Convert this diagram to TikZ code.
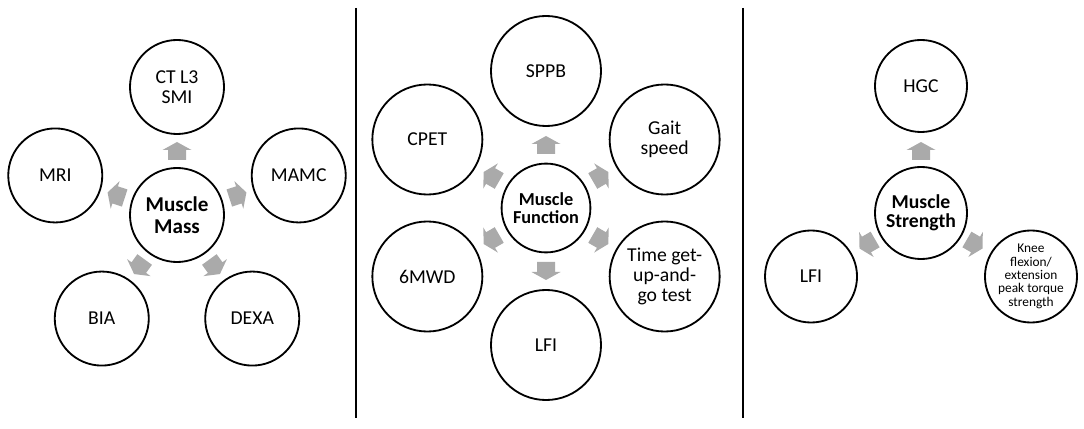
\documentclass[tikz,border=0pt]{standalone}
\usepackage{fontspec}
\setmainfont{Carlito}
\usetikzlibrary{calc}

\definecolor{arrowgray}{RGB}{170,170,170}
\tikzset{
	item/.style={circle, draw, line width=1.3pt, minimum size=2.35cm, inner sep=0pt,
		align=center, font=\fontsize{14}{14.2}\selectfont},
	hub/.style={item, font=\fontsize{15}{15.4}\selectfont\bfseries},
	tinytext/.style={font=\fontsize{9.5}{9.5}\selectfont},
	plain/.style={},
	blockarrow/.pic={
		\fill[arrowgray] (-9,-9) -- (1,-9) -- (1,-14.5) -- (9,0) -- (1,14.5) -- (1,9) -- (-9,9) -- cycle;
	}
}

\begin{document}
\begin{tikzpicture}[x=0.025cm, y=0.025cm]
	\useasboundingbox (0,0) rectangle (1084,428);

	% muscle mass
	\node[hub] (mass) at (177,213) {Muscle\\Mass};
	\foreach \name/\ang/\txt in {ct/90/{CT L3\\SMI}, mamc/18/MAMC, dexa/-54/DEXA, bia/234/BIA, mri/162/MRI}
	{
		\node[item] (\name) at ($(mass)+(\ang:128)$) {\txt};
		\pic[rotate=\ang] at ($(mass)+(\ang:64)$) {blockarrow};
	}

	\draw[line width=0.8pt] (356,420) -- (356,10);

	% muscle function
	\node[hub, minimum size=2.22cm, font=\fontsize{13}{12.8}\selectfont\bfseries] (func) at (546,220) {Muscle\\Function};
	\foreach \name/\ang/\txt in {sppb/90/SPPB, gait/30/{Gait\\speed}, tug/-30/{Time get-\\up-and-\\go test},
		lfi/-90/LFI, mwd/-150/6MWD, cpet/150/CPET}
	{
		\node[item, minimum size=2.75cm] (\name) at ($(func)+(\ang:137)$) {\txt};
		\pic[rotate=\ang] at ($(func)+(\ang:63)$) {blockarrow};
	}

	\draw[line width=0.8pt] (743,420) -- (743,10);

	% muscle strength
	\node[hub, minimum size=2.3cm, font=\fontsize{14}{13.8}\selectfont\bfseries] (strength) at (921,215) {Muscle\\Strength};
	\foreach \name/\ang/\sty/\txt in {hgc/90/plain/HGC, lfis/210/plain/LFI,
		knee/-30/tinytext/{Knee\\flexion/\\extension\\peak torque\\strength}}
	{
		\node[item, minimum size=2.3cm, \sty] (\name) at ($(strength)+(\ang:127)$) {\txt};
		\pic[rotate=\ang] at ($(strength)+(\ang:62)$) {blockarrow};
	}
\end{tikzpicture}
\end{document}
